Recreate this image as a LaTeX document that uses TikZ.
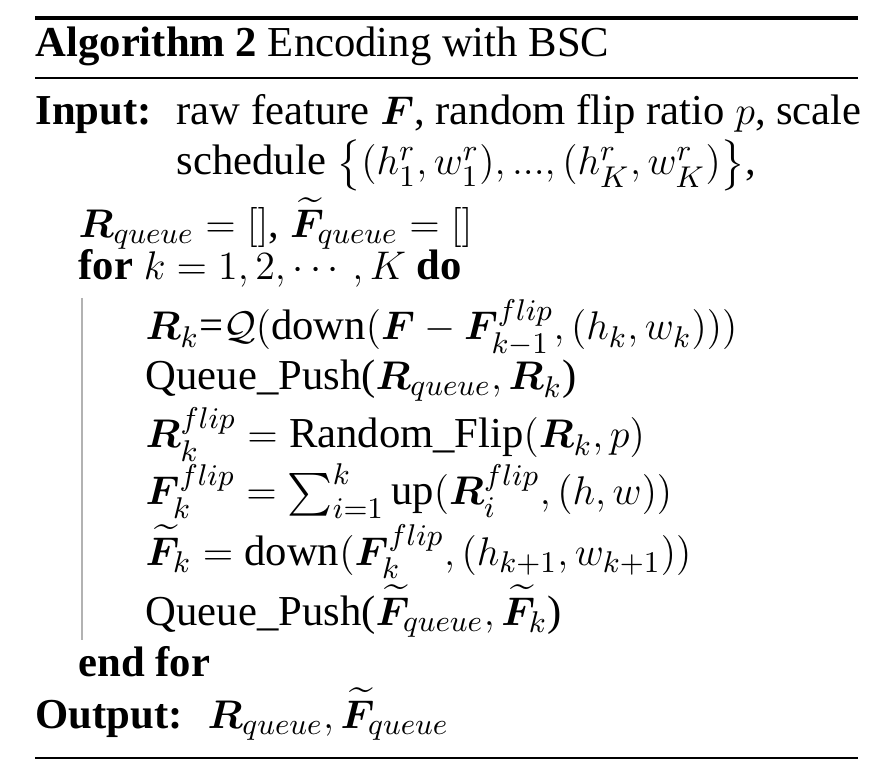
\documentclass[tikz,border=0pt]{standalone}
\usepackage{amsmath,amssymb,bm}
\usepackage{fontspec}
\setmainfont{Liberation Serif}
\begin{document}
\begin{tikzpicture}[x=0.3pt,y=-0.3pt,
  txt/.style={anchor=base west,inner sep=0pt,font=\fontsize{12.8}{14}\selectfont}]
\useasboundingbox (0,0) rectangle (882,775);
\draw[line width=1pt] (35,18) -- (858,18);
\draw[line width=0.4pt] (35,78) -- (858,78);
\draw[line width=0.4pt] (35,758) -- (858,758);
\draw[gray!60,line width=0.4pt] (82,298) -- (82,640);
\node[txt] (t) at (35,57) {\textbf{Algorithm 2} Encoding with BSC};
\node[txt] (in) at (35,125) {\textbf{Input:}};
\node[txt] (in1) at (176,125) {raw feature $\bm F$, random flip ratio $p$, scale};
\node[txt] (in2) at (176,175) {schedule $\big\{(h_1^r,w_1^r),...,(h_K^r,w_K^r)\big\}$,};
\node[txt] (l1) at (78,238) {$\bm R_{queue}=[]$, $\widetilde{\bm F}_{queue}=[]$};
\node[txt] (l2) at (78,280) {\textbf{for} $k=1,2,\cdots,K$ \textbf{do}};
\node[txt] (l3) at (145,340) {$\bm R_k$=$\mathcal{Q}(\text{down}(\bm F-\bm F_{k-1}^{flip},(h_k,w_k)))$};
\node[txt] (l4) at (145,390) {Queue\_Push($\bm R_{queue},\bm R_k$)};
\node[txt] (l5) at (145,448) {$\bm R_k^{flip}=\text{Random\_Flip}(\bm R_k,p)$};
\node[txt] (l6) at (145,505) {$\bm F_k^{flip}=\sum_{i=1}^{k}\text{up}(\bm R_i^{flip},(h,w))$};
\node[txt] (l7) at (145,565) {$\widetilde{\bm F}_k=\text{down}(\bm F_k^{flip},(h_{k+1},w_{k+1}))$};
\node[txt] (l8) at (145,625) {Queue\_Push($\widetilde{\bm F}_{queue},\widetilde{\bm F}_k$)};
\node[txt] (l9) at (78,676) {\textbf{end for}};
\node[txt] (out) at (35,728) {\textbf{Output:} \ $\bm R_{queue},\widetilde{\bm F}_{queue}$};
\end{tikzpicture}
\end{document}
